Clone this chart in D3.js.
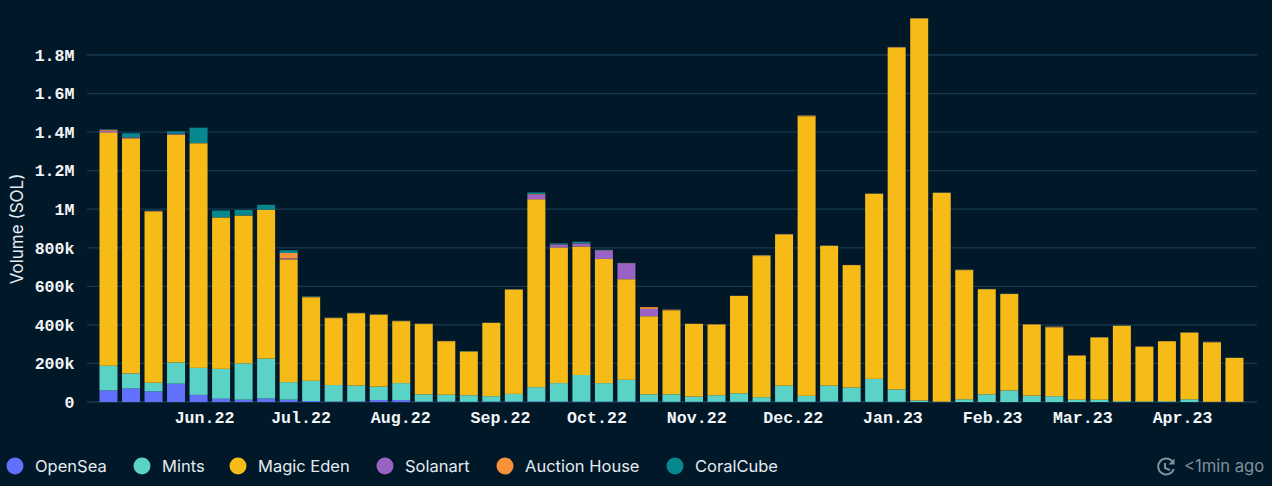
<!DOCTYPE html>
<html>
<head>
<meta charset="utf-8">
<script src="https://cdn.jsdelivr.net/npm/d3@7"></script>
<style>
  html, body { margin: 0; padding: 0; background: #011829; overflow: hidden; }
  svg { display: block; }
</style>
</head>
<body>
<svg id="chart"></svg>
<script>
// values in thousands of SOL, one per week from 2 May 2022
const openSea = [60,70,55,95,37,17,12,18,12,5,3,3,10,10,2,2,1,2,2,3,2,2,2,2,1,1,1,1,1,1,1,1,3,1,1,1,0,0,0,0,0,0,0,0,0,0,0,0,0,0,0];
const mints = [128,78,45,110,140,155,188,207,91,105,85,82,70,88,38,36,34,28,40,74,96,138,96,113,39,39,27,34,44,24,84,31,82,74,119,64,8,2,14,40,60,33,30,12,12,4,3,4,14,1,1];
const magicEden = [1211,1220,888,1182,1165,785,767,772,637,433,347,375,372,321,364,277,227,380,540,975,704,667,644,522,405,435,377,367,505,732,782,1450,725,635,960,1772,1979,1083,670,545,500,369,357,228,320,391,284,311,346,308,228];
const solanart = [8,4,0,4,0,0,0,0,5,0,0,0,0,0,0,0,0,0,0,25,15,15,45,83,38,0,0,0,0,0,0,0,0,0,0,0,0,0,0,0,0,0,0,0,0,0,0,0,0,0,0];
const auctionHouse = [5,1,3,1,1,1,1,1,28,3,2,2,2,2,2,2,1,1,3,2,1,1,1,1,9,4,1,1,1,4,4,4,1,1,1,4,4,1,2,1,1,1,4,2,4,1,1,1,1,3,0];
const coralCube = [2,21,2,12,80,35,28,25,14,2,1,1,1,1,1,0,1,1,1,8,5,8,2,1,0,1,0,0,0,1,1,1,1,0,1,1,1,1,1,1,1,0,1,0,1,1,0,0,1,1,1];

const seriesNames = ["OpenSea", "Mints", "Magic Eden", "Solanart", "Auction House", "CoralCube"];
const seriesColors = ["#6271fb", "#5ad3c6", "#f7bb17", "#9b62c6", "#f79239", "#07888f"];
const seriesValues = [openSea, mints, magicEden, solanart, auctionHouse, coralCube];
const yTicks = [0, 200, 400, 600, 800, 1000, 1200, 1400, 1600, 1800];
const yTickLabels = ["0", "200k", "400k", "600k", "800k", "1M", "1.2M", "1.4M", "1.6M", "1.8M"];
const legendTextX = [35, 162, 258, 405, 525, 695];

const width = 1272;
const height = 486;

const svg = d3.select("#chart").attr("width", width).attr("height", height);

const weeks = d3.utcMonday.range(new Date(Date.UTC(2022, 4, 2)), new Date(Date.UTC(2023, 3, 25)));
const monthTicks = d3.utcMonth.range(new Date(Date.UTC(2022, 5, 1)), new Date(Date.UTC(2023, 4, 1)));

// scale is pinned on the 1st of June and the 1st of April labels
const x = d3.scaleUtc()
  .domain([new Date(Date.UTC(2022, 5, 1)), new Date(Date.UTC(2023, 3, 1))])
  .range([205, 1183]);

const y = d3.scaleLinear().domain([0, 1800]).range([402, 55]);

const rows = weeks.map((date, i) => {
  const row = { date };
  seriesNames.forEach((name, s) => { row[name] = seriesValues[s][i]; });
  return row;
});
const stacked = d3.stack().keys(seriesNames)(rows);

// Grid lines
svg.append("g")
  .selectAll("line")
  .data(yTicks)
  .join("line")
  .attr("x1", 87)
  .attr("x2", 1257)
  .attr("y1", d => y(d))
  .attr("y2", d => y(d))
  .attr("stroke", "#163850")
  .attr("stroke-width", 1.3);

// Bars
const barWidth = 18;
svg.append("g")
  .selectAll("g")
  .data(stacked)
  .join("g")
  .attr("fill", (d, i) => seriesColors[i])
  .selectAll("rect")
  .data(d => d)
  .join("rect")
  .attr("x", d => x(d.data.date) - barWidth / 2)
  .attr("width", barWidth)
  .attr("y", d => y(d[1]))
  .attr("height", d => y(d[0]) - y(d[1]));

// Y axis
const yAxis = svg.append("g")
  .attr("transform", "translate(74.5,0)")
  .call(d3.axisLeft(y).tickValues(yTicks).tickSize(0).tickPadding(0).tickFormat((d, i) => yTickLabels[i]));
yAxis.select(".domain").remove();

// X axis
const xAxis = svg.append("g")
  .attr("transform", "translate(-1,402)")
  .call(d3.axisBottom(x).tickValues(monthTicks).tickSize(0).tickPadding(9).tickFormat(d3.utcFormat("%b.%y")));
xAxis.select(".domain").remove();

svg.selectAll(".tick text")
  .attr("fill", "#f1f5f7")
  .style("font-family", "'Liberation Mono', monospace")
  .style("font-weight", 700)
  .style("font-size", "16.6px");

svg.append("text")
  .attr("transform", "translate(23,229) rotate(-90)")
  .attr("text-anchor", "middle")
  .attr("fill", "#e4ebf0")
  .style("font-family", "Inter, sans-serif")
  .style("font-size", "17px")
  .text("Volume (SOL)");

// Legend
const legend = svg.append("g")
  .selectAll("g")
  .data(seriesNames)
  .join("g")
  .attr("transform", (d, i) => `translate(${legendTextX[i]},466)`);

legend.append("circle")
  .attr("cx", -20)
  .attr("r", 8.5)
  .attr("fill", (d, i) => seriesColors[i]);

legend.append("text")
  .attr("dy", "0.35em")
  .attr("fill", "#e4ebf0")
  .style("font-family", "Inter, sans-serif")
  .style("font-size", "16.5px")
  .text(d => d);

// Refresh status, bottom right
const status = svg.append("g").attr("transform", "translate(1166,467)");
status.append("path")
  .attr("d", "M6.5,-5.5 A8,8 0 1 0 7.8,2")
  .attr("fill", "none")
  .attr("stroke", "#7f909d")
  .attr("stroke-width", 2);
status.append("path")
  .attr("d", "M8.5,-8.5 L8.5,-2.5 L2.5,-2.5 Z")
  .attr("fill", "#7f909d");
status.append("path")
  .attr("d", "M-1,-4 L-1,1 L4,3")
  .attr("fill", "none")
  .attr("stroke", "#7f909d")
  .attr("stroke-width", 2);

svg.append("text")
  .attr("x", 1184)
  .attr("y", 466)
  .attr("dy", "0.35em")
  .attr("fill", "#7f909d")
  .style("font-family", "Inter, sans-serif")
  .style("font-size", "16.6px")
  .text("<1min ago");
</script>
</body>
</html>
